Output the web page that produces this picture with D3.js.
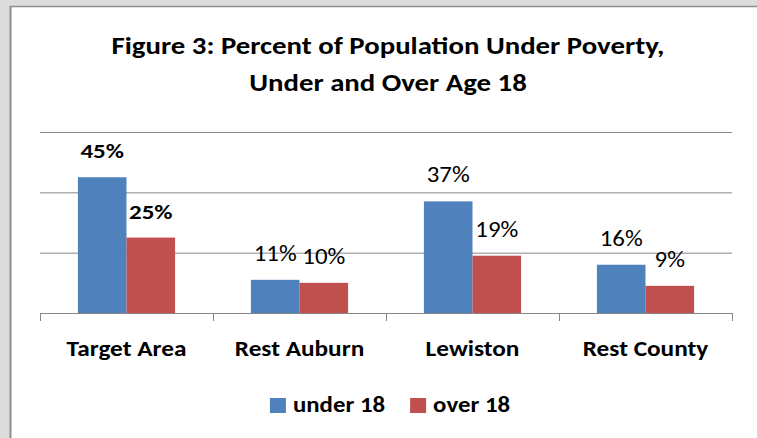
<!DOCTYPE html>
<html>
<head>
<meta charset="utf-8">
<script src="https://cdn.jsdelivr.net/npm/d3@7"></script>
<style>
  html, body { margin: 0; padding: 0; background: #dcdcdc; }
  svg { display: block; font-family: Calibri, Carlito, Lato, sans-serif; }
</style>
</head>
<body>
<div id="chart"></div>
<script>
const categories = ['Target Area', 'Rest Auburn', 'Lewiston', 'Rest County'];
const series = ['under 18', 'over 18'];
const under18 = [45, 11, 37, 16];
const over18 = [25, 10, 19, 9];
const gridTicks = [20, 40, 60];
const titleLines = ['Figure 3: Percent of Population Under Poverty,', 'Under and Over Age 18'];

const colors = {'under 18': '#4f81bd', 'over 18': '#c0504d'};
const W = 757, H = 438;
const margin = {top: 132, right: 25, bottom: 125, left: 40};

// the source picture is a bit wider than Lato, so text is stretched sideways
const stretch = {title: 1.2, cat: 1.1, bold: 1.25, label: 1.13, legend: 1.13};

const data = categories.map((c, i) => ({name: c, values: [
  {key: series[0], value: under18[i]},
  {key: series[1], value: over18[i]}
]}));

const svg = d3.select('#chart').append('svg')
  .attr('width', W)
  .attr('height', H);

// background + white chart box
svg.append('rect').attr('width', W).attr('height', H).attr('fill', '#dcdcdc');
svg.append('rect').attr('x', 10).attr('y', 7).attr('width', W).attr('height', H)
  .attr('fill', '#fff');
svg.append('line').attr('x1', 10.5).attr('x2', 10.5).attr('y1', 6).attr('y2', H)
  .attr('stroke', '#8c8c8c').attr('stroke-width', 2);
svg.append('line').attr('x1', 10).attr('x2', W).attr('y1', 6.5).attr('y2', 6.5)
  .attr('stroke', '#8c8c8c').attr('stroke-width', 1.5);

// title
svg.append('g').selectAll('text')
  .data(titleLines)
  .enter().append('text')
  .attr('transform', (d, i) => `translate(388,${54 + i * 37}) scale(${stretch.title},1)`)
  .attr('text-anchor', 'middle')
  .attr('font-weight', 'bold')
  .attr('font-size', 24)
  .attr('fill', '#000')
  .text(d => d);

const innerW = W - margin.left - margin.right;
const x = d3.scaleBand().domain(categories).range([margin.left, margin.left + innerW]).padding(0);
const x1 = d3.scaleBand().domain(series).range([0, x.bandwidth()]).paddingInner(0).paddingOuter(0.78);
const y = d3.scaleLinear().domain([0, 60]).range([H - margin.bottom, margin.top]);
const xEdge = d3.scaleLinear().domain([0, categories.length]).range(x.range());

// gridlines
svg.append('g')
  .attr('transform', `translate(${margin.left},0)`)
  .call(d3.axisLeft(y).tickValues(gridTicks).tickSize(-innerW).tickFormat(''))
  .call(g => g.select('.domain').remove())
  .call(g => g.selectAll('line').attr('stroke', '#868686'));

// bars
const groups = svg.selectAll('.grp')
  .data(data)
  .enter().append('g')
  .attr('class', 'grp')
  .attr('transform', d => `translate(${x(d.name)},0)`);

groups.selectAll('rect')
  .data(d => d.values)
  .enter().append('rect')
  .attr('x', d => x1(d.key))
  .attr('y', d => y(d.value))
  .attr('width', x1.bandwidth())
  .attr('height', d => y(0) - y(d.value))
  .attr('fill', d => colors[d.key]);

// data labels (first group is bold)
groups.each(function(d, gi) {
  const sx = gi === 0 ? stretch.bold : stretch.label;
  d3.select(this).selectAll('text')
    .data(d.values)
    .enter().append('text')
    .attr('transform', v => `translate(${x1(v.key) + x1.bandwidth() / 2},${y(v.value) - 19}) scale(${sx},1)`)
    .attr('text-anchor', 'middle')
    .attr('font-weight', gi === 0 ? 'bold' : 'normal')
    .attr('font-size', gi === 0 ? 20 : 22)
    .attr('fill', '#000')
    .text(v => v.value + '%');
});

// x axis with ticks between categories
svg.append('g')
  .attr('transform', `translate(0,${y(0)})`)
  .call(d3.axisBottom(xEdge).tickValues(d3.range(categories.length + 1)).tickSize(8).tickSizeOuter(0).tickFormat(''))
  .call(g => g.selectAll('line, path').attr('stroke', '#868686'));

svg.append('g')
  .selectAll('text')
  .data(categories)
  .enter().append('text')
  .attr('transform', d => `translate(${x(d) + x.bandwidth() / 2},356) scale(${stretch.cat},1)`)
  .attr('text-anchor', 'middle')
  .attr('font-weight', 'bold')
  .attr('font-size', 23)
  .attr('fill', '#000')
  .text(d => d);

// legend
const legend = svg.append('g');
const items = legend.selectAll('g')
  .data(series)
  .enter().append('g');
items.append('rect')
  .attr('width', 16).attr('height', 15)
  .attr('y', 398)
  .attr('fill', d => colors[d]);
items.append('text')
  .attr('transform', `translate(23,412) scale(${stretch.legend},1)`)
  .attr('font-weight', 'bold')
  .attr('font-size', 22)
  .attr('fill', '#000')
  .text(d => d);
let pos = 0;
const offsets = [];
items.each(function() {
  offsets.push(pos);
  pos += 23 + d3.select(this).select('text').node().getComputedTextLength() * stretch.legend + 25;
});
const total = pos - 25;
const start = 390 - total / 2;
items.attr('transform', (d, i) => `translate(${start + offsets[i]},0)`);
</script>
</body>
</html>
